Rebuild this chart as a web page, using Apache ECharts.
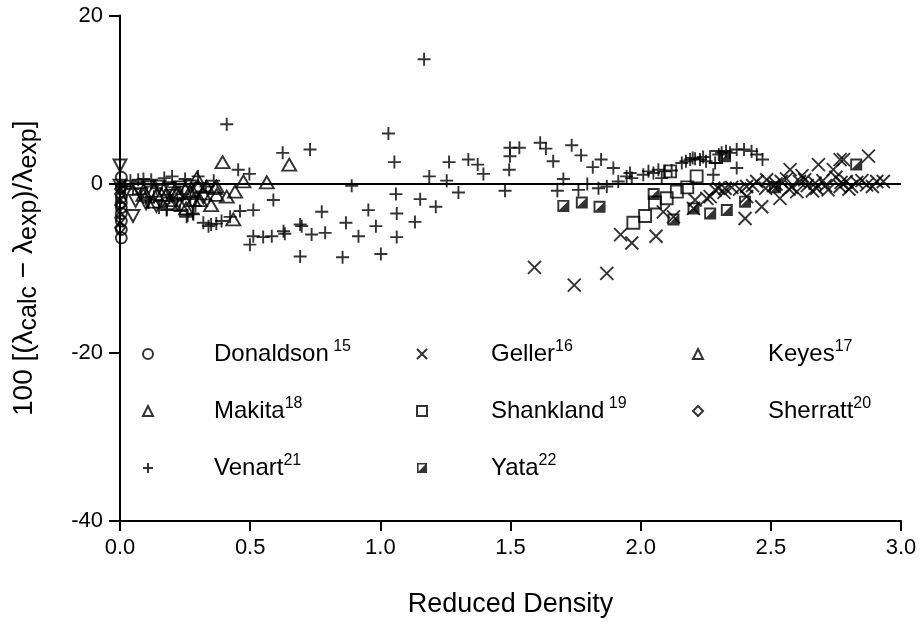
<!DOCTYPE html>
<html>
<head>
<meta charset="utf-8">
<script src="https://cdn.jsdelivr.net/npm/echarts@6/dist/echarts.min.js"></script>
<style>
html,body{margin:0;padding:0;background:#fff;}
#chart{width:921px;height:623px;}
</style>
</head>
<body>
<div id="chart"></div>
<script>
// ---- Data (reduced density, 100*(calc-exp)/exp) ----
const seriesNames = ['Donaldson','Geller','Keyes','Makita','Shankland','Sherratt','Venart','Yata'];
const refNumbers = {Donaldson:' 15', Geller:'16', Keyes:'17', Makita:'18', Shankland:' 19', Sherratt:'20', Venart:'21', Yata:'22'};
const xTicks = [0.0,0.5,1.0,1.5,2.0,2.5,3.0];
const yTicks = [-40,-20,0,20];

const donaldson = [[0.005,0.8],[0.005,-0.3],[0.005,-1.6],[0.005,-2.2],[0.005,-2.8],[0.005,-3.5],[0.005,-4.4],[0.005,-5.4],[0.005,-6.4]];

const geller = [[1.592,-9.9],[1.745,-12.0],[1.87,-10.6],[1.923,-6.0],[1.966,-7.0],[2.059,-6.2],[2.087,-3.3],[2.126,-3.9],
 [2.209,-1.9],[2.203,-2.9],[2.254,-1.7],[2.267,-1.5],[2.286,-0.7],[2.299,-0.5],[2.324,-0.5],[2.35,-0.4],[2.401,-4.1],
 [2.407,-0.3],[2.407,-1.5],[2.446,0.3],[2.465,-2.7],[2.484,0.5],[2.51,-0.2],[2.535,-1.7],[2.54,0.3],[2.574,1.7],[2.6,-0.9],
 [2.61,0.3],[2.64,-0.2],[2.683,2.3],[2.676,-0.5],[2.7,0.4],[2.74,1.7],[2.766,-0.3],[2.779,2.9],[2.79,0.3],[2.81,-0.3],
 [2.83,0.2],[2.868,-0.1],[2.875,3.3],[2.907,0.3],[2.932,0.3],[2.56,0.6],[2.62,1.0],[2.66,-0.8],[2.72,-0.7],[2.75,0.8],
 [2.58,-0.4],[2.48,-0.5],[2.38,-0.6],[2.43,-0.2],[2.32,-1.0],[2.766,2.9],
 [2.52,0.0],[2.57,-0.6],[2.63,0.5],[2.67,0.1],[2.71,-0.2],[2.77,0.2],[2.8,-0.6],[2.85,0.4],[2.89,-0.3]];

const keyes = [[0.0,2.2],[0.0,-0.2],[0.02,-1.0],[0.05,-3.8],[0.06,-2.0],[0.08,-1.2],[0.1,-2.3],[0.12,-1.0],[0.14,-2.6],
 [0.16,-0.8],[0.18,-2.0],[0.2,-1.4],[0.22,-2.4],[0.25,-1.0],[0.28,-2.2],[0.3,-0.6],[0.32,-1.6],
 [0.07,-0.5],[0.11,-0.4],[0.15,-0.3],[0.19,-0.5],[0.23,-0.4],[0.27,-0.3]];

const makita = [[0.394,2.6],[0.65,2.3],[0.474,0.3],[0.564,0.2],[0.442,-0.9],[0.371,-0.3],[0.32,-1.1],[0.282,-1.9],[0.254,-2.9],
 [0.435,-4.2],[0.371,-1.3],[0.218,-1.1],[0.192,-1.9],[0.128,-2.1],[0.16,-1.3],[0.269,-0.9],[0.301,-0.3],[0.333,-0.3],
 [0.09,-1.3],[0.23,-2.4],[0.307,-1.9],[0.35,-2.5],[0.41,-1.5],[0.295,0.7],[0.365,-0.5]];

const shankland = [[1.972,-4.6],[2.017,-3.8],[2.055,-2.2],[2.1,-1.7],[2.139,-0.9],[2.179,-0.4],[2.215,0.9],[2.113,1.5],[2.29,3.2]];

const sherratt = [[0.0,-0.6],[0.0,-1.2],[0.0,-2.5],[0.0,-4.0],[0.0,-5.2]];

const venart = [[0.02,-0.3],[0.04,0.4],[0.05,-0.6],[0.07,0.5],[0.08,-1.2],[0.09,0.6],[0.11,-2.2],[0.12,0.5],[0.14,-0.5],
 [0.15,-2.8],[0.17,0.7],[0.18,-3.0],[0.2,0.9],[0.21,-0.4],[0.23,-3.2],[0.25,0.6],[0.26,-3.7],[0.28,-3.5],[0.3,0.9],
 [0.32,-4.6],[0.34,-5.0],[0.35,-4.8],[0.37,-4.7],[0.39,-4.4],[0.36,0.4],[0.33,-0.3],
 [0.1,-1.8],[0.13,-1.5],[0.16,-2.0],[0.19,-1.6],[0.22,-2.0],[0.24,-1.2],[0.27,-1.8],[0.29,-2.6],
 [0.41,7.1],[0.454,1.7],[0.497,1.2],[0.589,-1.9],[0.625,3.7],[0.73,4.1],[0.775,-3.3],[0.512,-3.1],[0.461,-3.2],[0.423,-3.9],
 [0.512,-6.2],[0.55,-6.3],[0.583,-6.2],[0.633,-5.9],[0.499,-7.2],[0.698,-5.0],[0.736,-6.0],[0.788,-5.8],[0.628,-5.6],
 [0.256,-3.9],[0.282,-3.6],[0.179,-3.1],
 [0.692,-4.8],[0.692,-8.6],[0.855,-8.7],[0.868,-4.6],[0.916,-6.2],[0.954,-3.1],[0.983,-5.0],[1.002,-8.3],[1.06,-1.2],
 [1.063,-3.5],[1.063,-6.3],[1.133,-4.5],[1.153,-1.8],[1.213,-2.7],[1.168,14.8],[1.031,6.0],[1.054,2.6],[0.89,-0.2],
 [1.188,0.9],[1.255,0.4],[1.264,2.6],[1.338,2.9],[1.374,2.3],[1.396,1.2],[1.30,-1.0],[1.498,4.3],[1.534,4.3],[1.498,3.3],
 [1.495,1.7],[1.479,-0.8],[1.614,4.9],[1.636,4.2],[1.664,2.7],[1.703,0.6],[1.68,-0.8],[1.735,4.6],[1.771,3.4],[1.816,2.0],
 [1.848,2.9],[1.895,1.9],[1.761,-0.7],[1.795,0.0],[1.838,-0.5],[1.87,-0.3],[1.914,0.3],[1.946,0.9],
 [1.959,1.3],[1.966,0.7],[2.01,1.1],[2.03,1.5],[2.049,1.3],[2.068,1.7],[2.081,0.7],[2.093,1.5],[2.119,1.6],[2.158,2.5],
 [2.174,2.7],[2.19,2.9],[2.209,3.0],[2.228,2.9],[2.251,2.7],[2.279,1.1],[2.286,2.5],[2.311,3.7],[2.328,3.9],[2.343,3.7],
 [2.369,4.1],[2.397,4.1],[2.426,3.9],[2.446,3.5],[2.468,2.9],[2.369,1.9],[2.2,3.1],[2.24,3.2],[2.3,3.5]];

const yata = [[1.703,-2.6],[1.774,-2.2],[1.842,-2.7],[2.05,-1.2],[2.126,-4.2],[2.203,-2.9],[2.267,-3.5],[2.331,-3.1],
 [2.401,-2.1],[2.516,-0.4],[2.828,2.3],[2.324,3.3]];

// ---- Chart ----
const FONT = 'Liberation Sans, Arial, sans-serif';
const openStyle = {color:'rgba(0,0,0,0)', borderColor:'#000', borderWidth:1.9};
const PLUS = 'path://M5,0L5,10M0,5L10,5';
const CROSS = 'path://M0,0L10,10M10,0L0,10';
const HALFSQ = 'path://M0,0L10,0L10,10L0,10ZM1.6,1.6L1.6,8.4L8.4,8.4L8.4,1.6ZM8.4,1.6L8.4,8.4L1.6,8.4Z';

function sc(name, data, symbol, size, extra) {
  return Object.assign({
    name: name, type: 'scatter', data: data, symbol: symbol, symbolSize: size,
    itemStyle: openStyle, silent: true, z: 3
  }, extra || {});
}

const series = [
  sc('Donaldson', donaldson, 'circle', 11),
  sc('Geller', geller, CROSS, 13),
  sc('Keyes', keyes, 'triangle', [13,12], {symbolRotate: 180}),
  sc('Makita', makita, 'triangle', [14,12]),
  sc('Shankland', shankland, 'rect', 12),
  sc('Sherratt', sherratt, 'diamond', [10,13]),
  sc('Venart', venart, PLUS, 13, {
    markLine: {silent:true, symbol:['none','none'], label:{show:false},
      lineStyle:{color:'#000', width:2.2, type:'solid'}, data:[{yAxis:0}], animation:false}
  }),
  sc('Yata', yata, HALFSQ, 12, {itemStyle:{color:'#000', borderWidth:0}})
];

function mkLegend(names, left, pad) {
  return {
    data: names, left: left, top: 339, orient: 'vertical', itemGap: 30,
    itemWidth: 10, itemHeight: 10, padding: 0, selectedMode: false,
    formatter: function(name) { return '{n|' + name + '}{s|' + refNumbers[name] + '}'; },
    textStyle: {fontFamily: FONT, color:'#000', fontSize: 24,
      rich: {
        n: {fontFamily: FONT, fontSize: 24, lineHeight: 30, padding: [0,0,0,pad], verticalAlign:'middle', color:'#000'},
        s: {fontFamily: FONT, fontSize: 16, lineHeight: 16, verticalAlign:'top', color:'#000'}
      }}
  };
}

const chart = echarts.init(document.getElementById('chart'), null, {renderer:'canvas'});
chart.setOption({
  animation: false,
  backgroundColor: '#fff',
  grid: {left:120, right:20, top:15.5, bottom:101.5, containLabel:false},
  legend: [
    mkLegend(['Donaldson','Makita','Venart'], 142, 56),
    mkLegend(['Geller','Shankland','Yata'], 416, 59),
    mkLegend(['Keyes','Sherratt'], 692, 60)
  ],
  xAxis: {
    type:'value', min: xTicks[0], max: xTicks[xTicks.length-1], interval: 0.5,
    name: 'Reduced Density', nameLocation:'middle', nameGap: 70,
    nameTextStyle: {fontFamily: FONT, fontSize: 27, color:'#000'},
    axisLine: {show:true, onZero:false, lineStyle:{color:'#000', width:2}},
    axisTick: {show:true, length:10, lineStyle:{color:'#000', width:2}},
    axisLabel: {fontFamily: FONT, fontSize: 22, color:'#000', margin: 16, formatter: v => v.toFixed(1)},
    splitLine: {show:false}
  },
  yAxis: {
    type:'value', min: yTicks[0], max: yTicks[yTicks.length-1], interval: 20,
    name: '{m|100 [(λ}{s|calc}{m| − λ}{s|exp}{m|)/λ}{s|exp}{m|]}',
    nameLocation:'middle', nameGap: 78, nameRotate: 90,
    nameTextStyle: {fontFamily: FONT, fontSize: 28, color:'#000',
      rich: {
        m: {fontFamily: FONT, fontSize: 28, lineHeight: 36, verticalAlign:'middle', color:'#000'},
        s: {fontFamily: FONT, fontSize: 25, lineHeight: 25, verticalAlign:'bottom', color:'#000'}
      }},
    axisLine: {show:true, onZero:false, lineStyle:{color:'#000', width:2}},
    axisTick: {show:true, length:11, lineStyle:{color:'#000', width:2}},
    axisLabel: {fontFamily: FONT, fontSize: 22, color:'#000', margin: 17},
    splitLine: {show:false}
  },
  series: series
});
</script>
</body>
</html>
